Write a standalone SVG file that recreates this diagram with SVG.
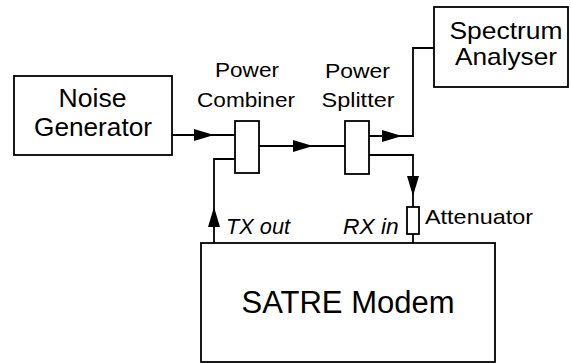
<svg xmlns="http://www.w3.org/2000/svg" xmlns:xlink="http://www.w3.org/1999/xlink" width="571" height="363" viewBox="0 0 571 363">
<style>
.box{fill:#fff;stroke:#000;stroke-width:1.8}
.ln{fill:none;stroke:#000;stroke-width:1.8}
.t{font-family:"Liberation Sans",Arial,sans-serif;fill:#000;text-anchor:middle}
.i{font-family:"Liberation Sans",Arial,sans-serif;font-style:italic;fill:#000}
</style>
<defs>
<path id="ah" d="M0,0 L-20,-6 L-20,6 Z" fill="#000"/>
</defs>
<rect width="571" height="363" fill="#fff"/>
<g id="connectors">
<path class="ln" d="M172,135 H235"/>
<path class="ln" d="M259,146 H345"/>
<path class="ln" d="M235,159 H214 V243"/>
<path class="ln" d="M369,136 H413 V48 H434"/>
<path class="ln" d="M369,155 H413 V207"/>
<path class="ln" d="M413,234 V243"/>
<use xlink:href="#ah" transform="translate(214,135)"/>
<use xlink:href="#ah" transform="translate(313,146)"/>
<use xlink:href="#ah" transform="translate(402,136)"/>
<use xlink:href="#ah" transform="translate(413,196) rotate(90)"/>
<use xlink:href="#ah" transform="translate(214,207) rotate(-90)"/>
</g>
<g id="noise-generator">
<rect class="box" x="14" y="76" width="158" height="79"/>
<text class="t" x="92.5" y="107" font-size="25" textLength="68" lengthAdjust="spacingAndGlyphs">Noise</text>
<text class="t" x="93" y="136" font-size="25" textLength="118" lengthAdjust="spacingAndGlyphs">Generator</text>
</g>
<g id="power-combiner">
<rect class="box" x="235" y="121" width="24" height="52"/>
<text class="t" x="247" y="77" font-size="21" textLength="64" lengthAdjust="spacingAndGlyphs">Power</text>
<text class="t" x="246" y="107" font-size="21" textLength="98" lengthAdjust="spacingAndGlyphs">Combiner</text>
</g>
<g id="power-splitter">
<rect class="box" x="345" y="121" width="24" height="53"/>
<text class="t" x="357.5" y="78" font-size="21" textLength="65" lengthAdjust="spacingAndGlyphs">Power</text>
<text class="t" x="358" y="107" font-size="21" textLength="73" lengthAdjust="spacingAndGlyphs">Splitter</text>
</g>
<g id="spectrum-analyser">
<rect class="box" x="434" y="7" width="134" height="80"/>
<text class="t" x="506" y="39" font-size="24" textLength="113" lengthAdjust="spacingAndGlyphs">Spectrum</text>
<text class="t" x="506" y="65" font-size="24" textLength="102" lengthAdjust="spacingAndGlyphs">Analyser</text>
</g>
<g id="attenuator">
<rect class="box" x="407" y="207" width="12" height="27"/>
<text class="t" x="425" y="224" font-size="21" style="text-anchor:start" textLength="108" lengthAdjust="spacingAndGlyphs">Attenuator</text>
</g>
<g id="satre-modem">
<rect class="box" x="201" y="243" width="294" height="119"/>
<text class="t" x="348" y="313" font-size="31" textLength="213" lengthAdjust="spacingAndGlyphs">SATRE Modem</text>
<text class="i" x="226" y="234" font-size="22" textLength="64" lengthAdjust="spacingAndGlyphs">TX out</text>
<text class="i" x="343" y="234" font-size="22" textLength="55.6" lengthAdjust="spacingAndGlyphs">RX in</text>
</g>
</svg>
